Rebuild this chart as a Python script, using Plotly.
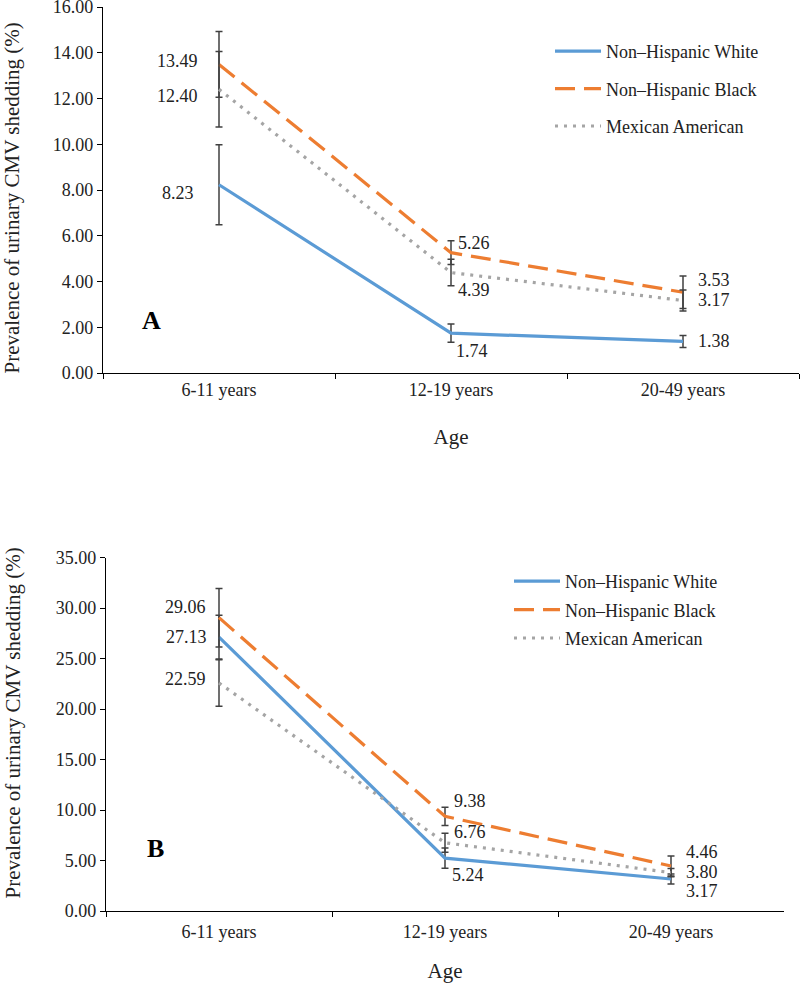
import plotly.graph_objects as go

# ---------------- data ----------------
categories = ["6-11 years", "12-19 years", "20-49 years"]
series_names = ["Non\u2013Hispanic White", "Non\u2013Hispanic Black", "Mexican American"]

# Panel A
a_white = [8.23, 1.74, 1.38]
a_black = [13.49, 5.26, 3.53]
a_mex = [12.40, 4.39, 3.17]
a_white_err = [1.75, 0.40, 0.26]
a_black_err = [1.44, 0.52, 0.71]
a_mex_err = [1.65, 0.58, 0.46]

# Panel B
b_white = [27.13, 5.24, 3.17]
b_black = [29.06, 9.38, 4.46]
b_mex = [22.59, 6.76, 3.80]
b_white_err = [2.16, 1.00, 0.50]
b_black_err = [2.90, 0.90, 0.99]
b_mex_err = [2.30, 0.94, 0.40]

a_ticks = [0, 2, 4, 6, 8, 10, 12, 14, 16]
b_ticks = [0, 5, 10, 15, 20, 25, 30, 35]

y_title_text = "Prevalence of urinary CMV shedding (%)"
x_title_text = "Age"

# ---------------- styles ----------------
FONT = "Liberation Serif, Times New Roman, serif"
colors = ["#5B9BD5", "#ED7D31", "#A5A5A5"]
dashes = ["solid", "20px,9px", "3px,6px"]
ERR_COLOR = "#404040"
TXT = "#222"

# label offsets (xanchor, xshift, yshift) per series per category
a_label_pos = [
    [("right", -24, -8), ("left", 4, -18), ("left", 14, 0)],
    [("right", -20, 3), ("left", 6, 10), ("left", 14, 12)],
    [("right", -20, -7), ("left", 6, -17), ("left", 14, 0)],
]
b_label_pos = [
    [("right", -11, 0), ("left", 6, -17), ("left", 14, -12)],
    [("right", -12, 11), ("left", 8, 15), ("left", 14, 14)],
    [("right", -12, 4), ("left", 8, 11), ("left", 14, 1)],
]

fig = go.Figure()

panels = [
    dict(vals=[a_white, a_black, a_mex], errs=[a_white_err, a_black_err, a_mex_err],
         xa="x", ya="y", legend="legend", pos=a_label_pos),
    dict(vals=[b_white, b_black, b_mex], errs=[b_white_err, b_black_err, b_mex_err],
         xa="x2", ya="y2", legend="legend2", pos=b_label_pos),
]

annotations = []
for p in panels:
    for i, (vals, errs) in enumerate(zip(p["vals"], p["errs"])):
        fig.add_trace(go.Scatter(
            x=categories, y=vals, mode="lines", name=series_names[i],
            line=dict(color=colors[i], width=3.2, dash=dashes[i]),
            error_y=dict(type="data", array=errs, visible=True, color=ERR_COLOR,
                         thickness=1.5, width=3.5),
            xaxis=p["xa"], yaxis=p["ya"], legend=p["legend"],
            legendgroup=f"{p['legend']}_{i}", hoverinfo="skip",
        ))
        for j, v in enumerate(vals):
            anchor, xs, ys = p["pos"][i][j]
            annotations.append(dict(
                x=categories[j], y=v, xref=p["xa"], yref=p["ya"],
                text=f"{v:.2f}", showarrow=False, xanchor=anchor, yanchor="middle",
                xshift=xs, yshift=ys, borderpad=0,
                font=dict(family=FONT, size=18, color=TXT),
            ))

# panel letters
for letter, cx, cy in [("A", 151, 320), ("B", 155, 848)]:
    annotations.append(dict(x=cx / 800, y=1 - cy / 985, xref="paper", yref="paper",
                            text=f"<b>{letter}</b>", showarrow=False,
                            xanchor="center", yanchor="middle",
                            font=dict(family=FONT, size=26, color="black")))

# y-axis titles (rotated)
for cx, cy in [(12, 198.5), (12, 723.5)]:
    annotations.append(dict(x=cx / 800, y=1 - cy / 985, xref="paper", yref="paper",
                            text=y_title_text, showarrow=False, textangle=-90,
                            xanchor="center", yanchor="middle",
                            font=dict(family=FONT, size=21, color=TXT)))

axis_common = dict(showline=True, linecolor="black", linewidth=1.3, showgrid=False,
                   zeroline=False, ticks="outside", ticklen=5, tickcolor="black",
                   automargin=False, ticklabeloverflow="allow",
                   tickfont=dict(family=FONT, size=18, color=TXT))

xcat = dict(axis_common, type="category", categoryorder="array", categoryarray=categories,
            range=[-0.5, 2.5], tickson="boundaries")

fig.update_layout(
    width=800, height=985,
    margin=dict(l=0, r=0, t=0, b=0, autoexpand=False),
    paper_bgcolor="white", plot_bgcolor="white",
    font=dict(family=FONT, color=TXT),
    xaxis=dict(xcat, domain=[103 / 800, 799 / 800], anchor="y",
               title=dict(text=x_title_text, font=dict(family=FONT, size=21, color=TXT),
                          standoff=30)),
    yaxis=dict(axis_common, domain=[1 - 373 / 985, 1 - 7 / 985], range=[0, 16],
               tickvals=a_ticks, tickformat=".2f", anchor="x"),
    xaxis2=dict(xcat, domain=[106 / 800, 784 / 800], anchor="y2", ticklabelstandoff=4,
                title=dict(text=x_title_text, font=dict(family=FONT, size=21, color=TXT),
                           standoff=22)),
    yaxis2=dict(axis_common, domain=[1 - 911 / 985, 1 - 557.7 / 985], range=[0, 35],
                tickvals=b_ticks, tickformat=".2f", anchor="x2"),
    legend=dict(x=550 / 800, y=1 - 33 / 985, xanchor="left", yanchor="top",
                font=dict(family=FONT, size=18, color=TXT), itemwidth=46,
                tracegroupgap=11, bgcolor="rgba(0,0,0,0)"),
    legend2=dict(x=509 / 800, y=1 - 563 / 985, xanchor="left", yanchor="top",
                 font=dict(family=FONT, size=18, color=TXT), itemwidth=46,
                 tracegroupgap=2, bgcolor="rgba(0,0,0,0)"),
    annotations=annotations,
    showlegend=True,
)

fig.write_html("out.html", config={"displayModeBar": False},
               post_script="document.body.style.margin='0';document.body.style.overflow='hidden';")
